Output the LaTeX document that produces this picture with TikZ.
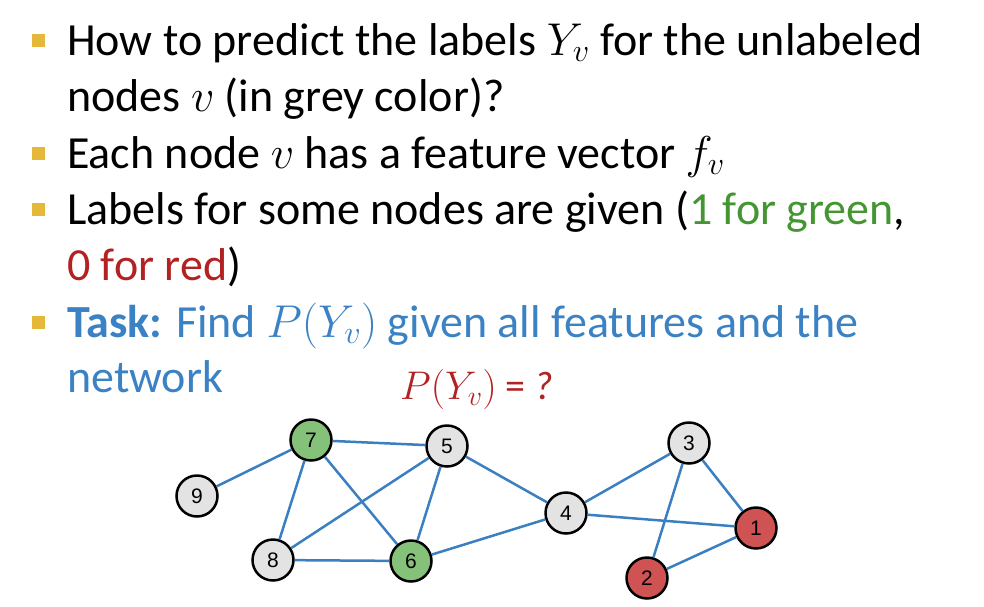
\RequirePackage{fix-cm}
\documentclass[tikz,border=0pt]{standalone}
\usepackage{fontspec}
\setmainfont{Carlito}
\newfontfamily\numfont{Liberation Sans}
\usepackage{tikz}
\usetikzlibrary{positioning}

\definecolor{bulletgold}{HTML}{E6B83A}
\definecolor{txtgreen}{HTML}{449632}
\definecolor{txtred}{HTML}{B22222}
\definecolor{txtblue}{HTML}{3B82C4}
\definecolor{edgeblue}{HTML}{3A7FC0}
\definecolor{fillgreen}{HTML}{86C17A}
\definecolor{fillred}{HTML}{D05353}
\definecolor{fillgrey}{HTML}{E3E3E3}

\begin{document}
\begin{tikzpicture}[
  x=1pt, y=-1pt,
  txt/.style={anchor=base west, inner sep=0pt, font=\fontsize{46}{52}\selectfont},
  bul/.style={fill=bulletgold, minimum size=13pt, inner sep=0pt},
  vtx/.style={circle, draw=black, line width=2.5pt, minimum size=41pt,
              inner sep=0pt, font=\numfont\fontsize{21}{24}\selectfont},
  unlab/.style={vtx, fill=fillgrey},
  labone/.style={vtx, fill=fillgreen},
  labzero/.style={vtx, fill=fillred},
  edge/.style={draw=edgeblue, line width=2.5pt},
]
\useasboundingbox (0,0) rectangle (984,606);

% bullets
\node[bul] (b1) at (38.5,40) {};
\node[bul] (b2) at (38.5,153) {};
\node[bul] (b3) at (38.5,209.5) {};
\node[bul] (b4) at (38.5,322) {};

% text lines
\node[txt] (l1) at (67,55) {How to predict the labels $Y_v$ for the unlabeled};
\node[txt] (l2) at (67,111) {nodes $v$ (in grey color)?};
\node[txt] (l3) at (67,168) {Each node $v$ has a feature vector $f_v$};
\node[txt] (l4) at (67,224) {Labels for some nodes are given (\textcolor{txtgreen}{1 for green},};
\node[txt] (l5) at (67,280) {\textcolor{txtred}{0 for red})};
\node[txt, text=txtblue] (l6) at (67,337)
  {\textbf{Task:} Find $P(Y_v)$ given all features and the};
\node[txt, text=txtblue] (l7) at (67,392) {network};
\node[txt, text=txtred, font=\fontsize{40}{46}\selectfont] (q) at (400,399)
  {$P(Y_v)$ = \textit{?}};

% graph
\node[labone]  (n7) at (311,440) {7};
\node[unlab]   (n5) at (447,446) {5};
\node[unlab]   (n9) at (197,496) {9};
\node[unlab]   (n8) at (273,560) {8};
\node[labone]  (n6) at (411,561) {6};
\node[unlab]   (n4) at (566,513) {4};
\node[unlab]   (n3) at (689,443) {3};
\node[labzero] (n1) at (756,528) {1};
\node[labzero] (n2) at (647,578) {2};

\draw[edge] (n9) -- (n7);
\draw[edge] (n7) -- (n5);
\draw[edge] (n7) -- (n8);
\draw[edge] (n7) -- (n6);
\draw[edge] (n5) -- (n8);
\draw[edge] (n5) -- (n6);
\draw[edge] (n5) -- (n4);
\draw[edge] (n8) -- (n6);
\draw[edge] (n6) -- (n4);
\draw[edge] (n4) -- (n3);
\draw[edge] (n4) -- (n1);
\draw[edge] (n3) -- (n2);
\draw[edge] (n3) -- (n1);
\draw[edge] (n2) -- (n1);
\end{tikzpicture}
\end{document}
